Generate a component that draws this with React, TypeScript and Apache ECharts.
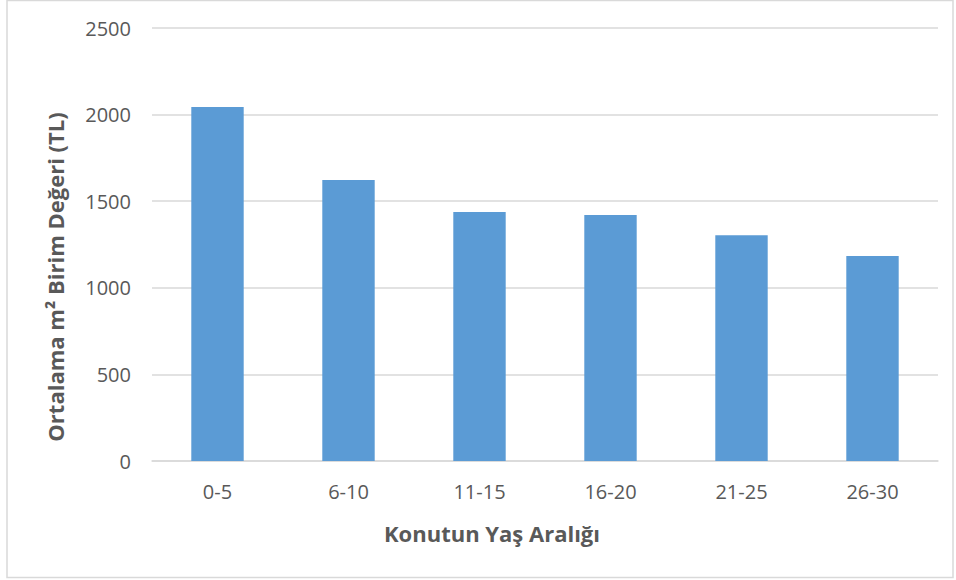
import React, { useEffect, useRef } from "react";
import * as echarts from "echarts";

const categories = ["0-5", "6-10", "11-15", "16-20", "21-25", "26-30"];
const values = [2044, 1622, 1438, 1420, 1303, 1184];
const yTicks = { min: 0, max: 2500, interval: 500 };
const xTitle = "Konutun Yaş Aralığı";
const yTitle = "Ortalama m² Birim Değeri (TL)";

export default function App() {
  const ref = useRef<HTMLDivElement>(null);
  useEffect(() => {
    document.body.style.margin = "0";
    const chart = echarts.init(ref.current!, null, { renderer: "svg" });
    const font = "'Open Sans', sans-serif";
    chart.setOption({
      animation: false,
      backgroundColor: "#ffffff",
      grid: { left: 152, right: 18, top: 28, bottom: 119 },
      xAxis: {
        type: "category",
        data: categories,
        axisLine: { lineStyle: { color: "#d9d9d9", width: 1.5 } },
        axisTick: { show: false },
        axisLabel: { color: "#595959", fontSize: 20, fontFamily: font, margin: 20 },
      },
      yAxis: {
        type: "value",
        min: yTicks.min,
        max: yTicks.max,
        interval: yTicks.interval,
        axisLine: { show: false },
        axisTick: { show: false },
        axisLabel: {
          color: "#595959",
          fontSize: 20,
          fontFamily: font,
          margin: 21,
          formatter: (v: number) => String(v),
        },
        splitLine: { lineStyle: { color: "#d9d9d9", width: 1.5 } },
      },
      series: [
        {
          type: "bar",
          data: values,
          barWidth: "40%",
          itemStyle: { color: "#5b9bd5" },
        },
      ],
      graphic: [
        {
          type: "rect",
          shape: { x: 7, y: 0.5, width: 946, height: 577 },
          style: { fill: "none", stroke: "#d9d9d9", lineWidth: 1.5 },
          silent: true,
        },
        {
          type: "text",
          x: 492,
          y: 533,
          style: {
            text: xTitle,
            fontSize: 22,
            fontWeight: "bold",
            fontFamily: font,
            fill: "#595959",
            align: "center",
            verticalAlign: "middle",
          },
        },
        {
          type: "text",
          x: 55,
          y: 277,
          rotation: Math.PI / 2,
          style: {
            text: yTitle,
            fontSize: 22,
            fontWeight: "bold",
            fontFamily: font,
            fill: "#595959",
            align: "center",
            verticalAlign: "middle",
          },
        },
      ],
    });
    return () => chart.dispose();
  }, []);
  return <div ref={ref} style={{ width: 956, height: 580 }} />;
}
